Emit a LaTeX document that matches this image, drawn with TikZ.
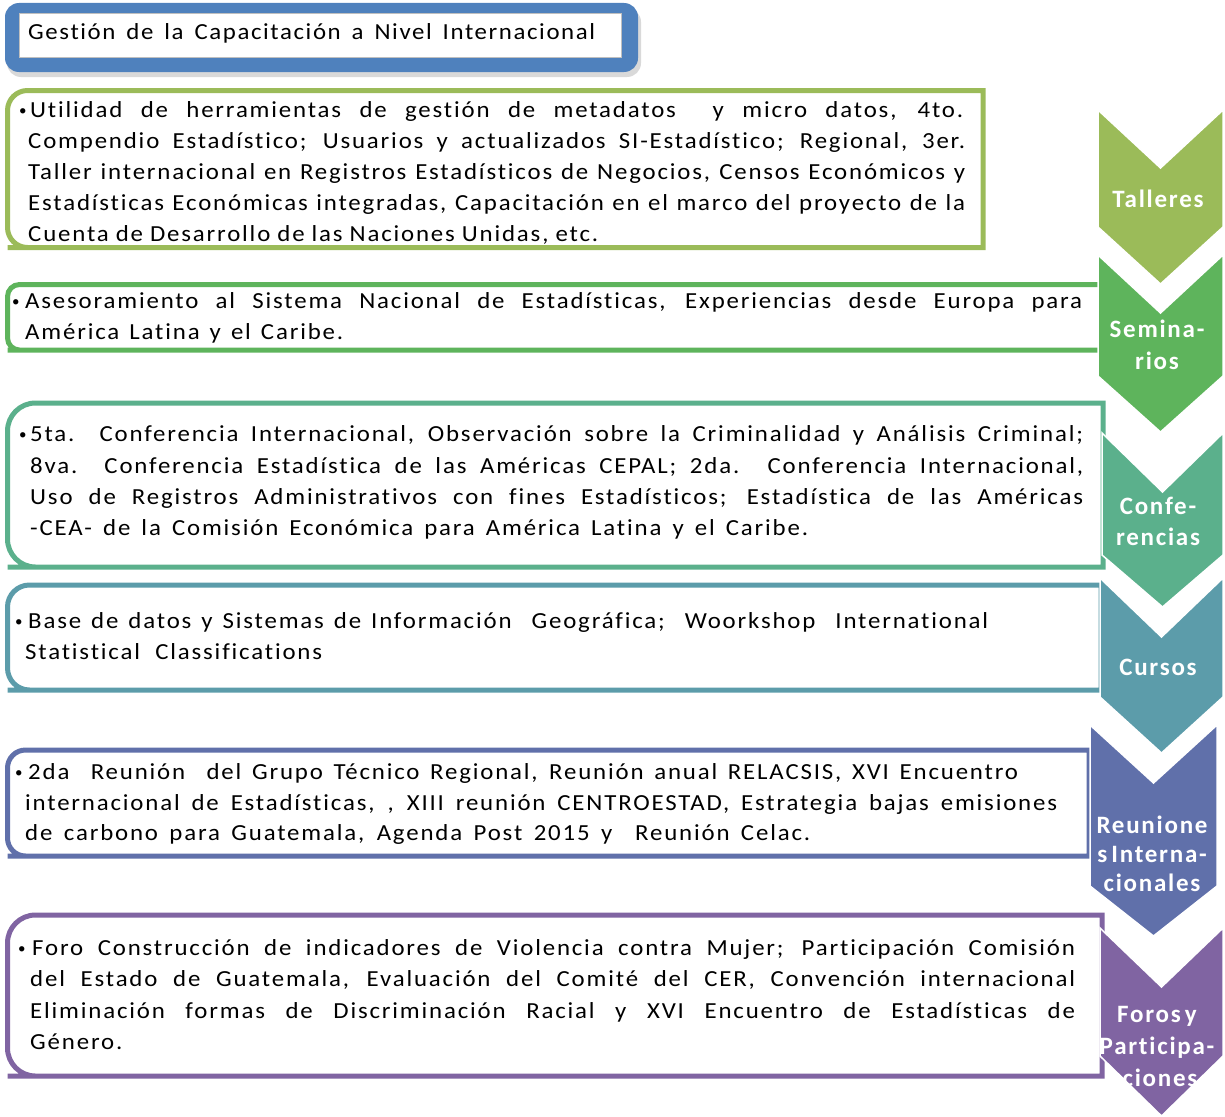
\documentclass[tikz,border=0pt]{standalone}
\usepackage{fontspec}
\setmainfont{Carlito}[Ligatures=NoCommon]
\definecolor{tblue}{HTML}{4F81BD}
\definecolor{cA}{HTML}{9BBB59}
\definecolor{cB}{HTML}{5EB45C}
\definecolor{cC}{HTML}{5BB08C}
\definecolor{cD}{HTML}{5C9CAA}
\definecolor{cE}{HTML}{6070AA}
\definecolor{cF}{HTML}{8064A2}
\newcommand{\bodyf}{\fontsize{23}{28}\selectfont\addfontfeature{LetterSpace=8,FakeStretch=1.08}}
\newcommand{\titf}{\fontsize{23}{28}\selectfont\addfontfeature{LetterSpace=7,FakeStretch=1.08}}
\newcommand{\labf}{\fontsize{25}{30}\selectfont\bfseries\addfontfeature{LetterSpace=7}}
% line: name, x, baseline, width, text
\newcommand{\tl}[5]{\node[txt] (#1) at (#2,#3) {\makebox[#4pt][s]{#5}};}
\newcommand{\bul}[3]{\node[bult] (#1) at (#2,#3) {\textbullet};}
% box: name, xl, xr, yt, yb, radius, colour
\newcommand{\bx}[7]{\draw[line width=5pt,#7,fill=white] (#3,#4) -- (#2+#6,#4) [rounded corners=#6pt] -- (#2,#4) -- (#2,#5) -- (#2+#6,#5) [sharp corners] -- (#3,#5) -- cycle;
  \coordinate (#1) at (#2,#4);}
% chevron: name, xl, xr, yt, yn, yb, yp, colour
\newcommand{\chev}[8]{\fill[#8,draw=white,line width=1.5pt] (#2,#4) -- ({(#2+#3)/2},#5) -- (#3,#4) -- (#3,#6) -- ({(#2+#3)/2},#7) -- (#2,#6) -- cycle;
  \coordinate (#1) at ({(#2+#3)/2},#5);}
\tikzset{
  txt/.style={anchor=base west,inner sep=0pt,font=\bodyf,text=black},
  bult/.style={anchor=base west,inner sep=0pt,font=\fontsize{15}{18}\selectfont,text=black},
  lab/.style={anchor=base,inner sep=0pt,font=\labf,text=white},
}
\begin{document}
\begin{tikzpicture}[x=1pt,y=-1pt]
\useasboundingbox (0,0) rectangle (1225,1116);
% title
\fill[black,opacity=0.15,rounded corners=14pt] (7,8) rectangle (641,77);
\fill[tblue,rounded corners=14pt] (5,3) rectangle (638,72);
\fill[white,draw=black!25,line width=0.6pt] (19,13) rectangle (621,57);
\node[anchor=base west,inner sep=0pt,font=\titf] (title) at (28,40) {\makebox[567pt][s]{Gestión de la Capacitación a Nivel Internacional}};
% boxes
\bx{b1}{7.5}{983}{90.5}{247.5}{20}{cA}
\bx{b2}{7.5}{1101}{284.5}{350}{12}{cB}
\bx{b3}{7.5}{1103}{403}{567}{28}{cC}
\bx{b4}{7.5}{1101}{585}{690}{22}{cD}
\bx{b5}{7.5}{1089}{750}{856}{18}{cE}
\bx{b6}{7.5}{1102}{915}{1076}{28}{cF}
% chevrons
\chev{c1}{1098}{1223}{110}{168}{227}{284}{cA}
\chev{c2}{1098}{1223}{255}{313}{376}{432}{cB}
\chev{c3}{1102}{1223}{433}{492}{555}{607}{cC}
\chev{c4}{1100}{1223}{578}{637}{697}{753}{cD}
\chev{c5}{1090}{1217}{725}{783}{886}{936}{cE}
\chev{c6}{1100}{1223}{928}{987}{1056}{1116}{cF}
% chevron labels
\node[lab] (l1) at (1158,207) {Talleres};
\node[lab] (l2a) at (1157,337) {Semina-};
\node[lab] (l2b) at (1157,369) {rios};
\node[lab] (l3a) at (1158,514) {Confe-};
\node[lab] (l3b) at (1158,545) {rencias};
\node[lab] (l4) at (1158,675) {Cursos};
\node[lab] (l5a) at (1152,833) {Reunione};
\node[lab] (l5b) at (1152,862) {s\,Interna-};
\node[lab] (l5c) at (1152,891) {cionales};
\node[lab] (l6a) at (1157,1022) {Foros\,y};
\node[lab] (l6b) at (1157,1054) {Participa-};
\node[lab] (l6c) at (1160,1086) {ciones};
% box 1 text
\bul{p1}{19}{115}
\tl{t1a}{30}{117}{933}{Utilidad de herramientas de gestión de metadatos\ \ y micro datos, 4to.}
\tl{t1b}{28}{148}{937}{Compendio Estadístico; Usuarios y actualizados SI-Estadístico; Regional, 3er.}
\tl{t1c}{28}{179}{937}{Taller internacional en Registros Estadísticos de Negocios, Censos Económicos y}
\tl{t1d}{28}{210}{937}{Estadísticas Económicas integradas, Capacitación en el marco del proyecto de la}
\tl{t1e}{28}{241}{570}{Cuenta de Desarrollo de las Naciones Unidas, etc.}
% box 2 text
\bul{p2}{12}{306}
\tl{t2a}{25}{308}{1057}{Asesoramiento al Sistema Nacional de Estadísticas, Experiencias desde Europa para}
\tl{t2b}{25}{339}{318}{América Latina y el Caribe.}
% box 3 text
\bul{p3}{19}{439}
\tl{t3a}{30}{441}{1053}{5ta. Conferencia Internacional, Observación sobre la Criminalidad y Análisis Criminal;}
\tl{t3b}{30}{473}{1053}{8va.\ \ Conferencia Estadística de las Américas CEPAL; 2da. Conferencia Internacional,}
\tl{t3c}{30}{504}{1053}{Uso de Registros Administrativos con fines Estadísticos; Estadística de las Américas}
\tl{t3d}{30}{535}{778}{-CEA- de la Comisión Económica para América Latina y el Caribe.}
% box 4 text
\bul{p4}{15}{626}
\tl{t4a}{28}{628}{960}{Base de datos y Sistemas de Información\ \ Geográfica;\ \ Woorkshop\ \ International}
\tl{t4b}{25}{659}{297}{Statistical Classifications}
% box 5 text
\bul{p5}{15}{777}
\tl{t5a}{28}{779}{990}{2da\ \ Reunión\ \ del Grupo Técnico Regional, Reunión anual RELACSIS, XVI Encuentro}
\tl{t5b}{25}{810}{1032}{internacional de Estadísticas, , XIII reunión CENTROESTAD, Estrategia bajas emisiones}
\tl{t5c}{25}{840}{785}{de carbono para Guatemala, Agenda Post 2015 y\ \ Reunión Celac.}
% box 6 text
\bul{p6}{18}{953}
\tl{t6a}{32}{955}{1043}{Foro Construcción de indicadores de Violencia contra Mujer; Participación Comisión}
\tl{t6b}{30}{986}{1045}{del Estado de Guatemala, Evaluación del Comité del CER, Convención internacional}
\tl{t6c}{30}{1018}{1045}{Eliminación formas de Discriminación Racial y XVI Encuentro de Estadísticas de}
\node[txt] (t6d) at (30,1049) {Género.};
\end{tikzpicture}
\end{document}
